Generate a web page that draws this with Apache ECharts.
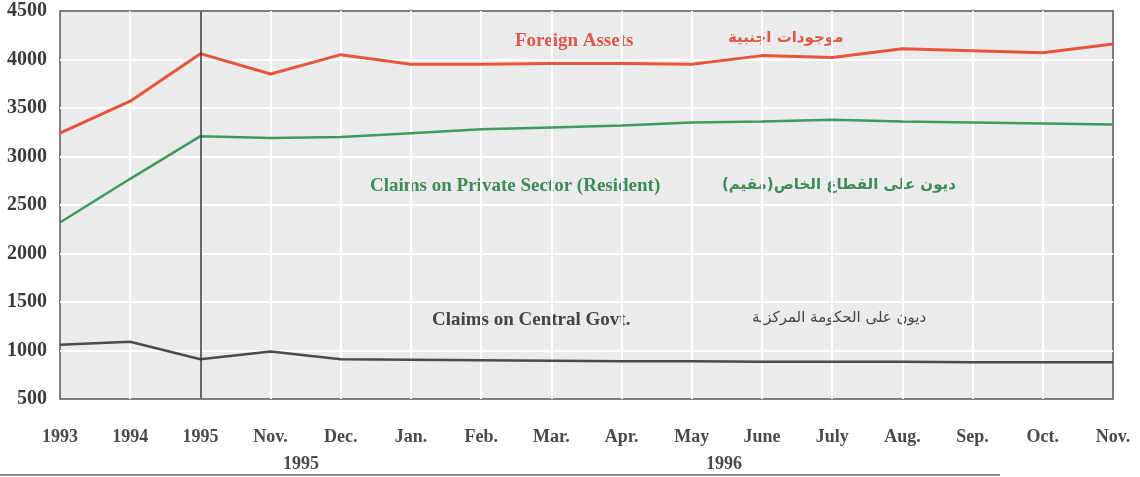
<!DOCTYPE html>
<html>
<head>
<meta charset="utf-8">
<script src="https://cdn.jsdelivr.net/npm/echarts@6/dist/echarts.min.js"></script>
<style>
  html, body { margin: 0; padding: 0; background: #fff; }
  #main { width: 1140px; height: 477px; }
</style>
</head>
<body>
<div id="main"></div>
<script>
var categories = ['1993', '1994', '1995', 'Nov.', 'Dec.', 'Jan.', 'Feb.', 'Mar.', 'Apr.', 'May', 'June', 'July', 'Aug.', 'Sep.', 'Oct.', 'Nov.'];
var foreignAssets = [3240, 3570, 4060, 3850, 4050, 3950, 3950, 3960, 3960, 3950, 4040, 4020, 4110, 4090, 4070, 4160];
var privateClaims = [2320, 2770, 3210, 3190, 3200, 3240, 3280, 3300, 3320, 3350, 3360, 3380, 3360, 3350, 3340, 3330];
var govtClaims = [1060, 1090, 910, 990, 910, 905, 900, 895, 890, 890, 885, 885, 885, 880, 880, 880];
var yearLabels = ['1995', '1996'];

var serif = '"Liberation Serif", "DejaVu Serif", serif';
var arabic = '"DejaVu Sans", "Noto Sans", sans-serif';

var myChart = echarts.init(document.getElementById('main'));
var option = {
    animation: false,
    backgroundColor: '#ffffff',
    grid: {
        left: 60,
        right: 27,
        top: 11,
        bottom: 78,
        show: true,
        backgroundColor: '#eaeceb',
        borderColor: '#555',
        borderWidth: 1.5
    },
    xAxis: {
        type: 'category',
        data: categories,
        boundaryGap: false,
        axisLine: { show: false },
        axisTick: { show: false },
        axisLabel: {
            margin: 29,
            interval: 0,
            color: '#4a4a4a',
            fontFamily: serif,
            fontWeight: 'bold',
            fontSize: 18
        },
        splitLine: { show: true, showMinLine: false, showMaxLine: false, lineStyle: { color: '#ffffff', width: 2 } }
    },
    yAxis: {
        type: 'value',
        min: 500,
        max: 4500,
        interval: 500,
        axisLine: { show: false },
        axisTick: { show: false },
        axisLabel: {
            margin: 13,
            color: '#3a3a3a',
            fontFamily: serif,
            fontWeight: 'bold',
            fontSize: 20,
            formatter: function (v) { return String(v); }
        },
        splitLine: { show: true, showMinLine: false, showMaxLine: false, lineStyle: { color: '#ffffff', width: 2 } }
    },
    series: [
        {
            name: 'Foreign Assets',
            type: 'line',
            data: foreignAssets,
            symbol: 'none',
            lineStyle: { color: '#e8553f', width: 3 },
            markLine: {
                silent: true,
                symbol: 'none',
                label: { show: false },
                lineStyle: { color: '#333', width: 1.5, type: 'solid' },
                data: [{ xAxis: '1995' }]
            }
        },
        {
            name: 'Claims on Private Sector (Resident)',
            type: 'line',
            data: privateClaims,
            symbol: 'none',
            lineStyle: { color: '#3f9a5c', width: 2.5 }
        },
        {
            name: 'Claims on Central Govt.',
            type: 'line',
            data: govtClaims,
            symbol: 'none',
            lineStyle: { color: '#4a4a4a', width: 2.5 }
        }
    ],
    graphic: [
        { type: 'text', left: 515, top: 32, style: { text: 'Foreign Assets', fill: '#e0574a', font: 'bold 19px ' + serif } },
        { type: 'text', left: 728, top: 31, style: { text: 'موجودات اجنبية', fill: '#e0574a', font: 'bold 15px ' + arabic } },
        { type: 'text', left: 370, top: 177, style: { text: 'Claims on Private Sector (Resident)', fill: '#3f8a5a', font: 'bold 19px ' + serif } },
        { type: 'text', left: 722, top: 178, style: { text: 'ديون على القطاع الخاص(مقيم)', fill: '#3f8a5a', font: 'bold 15px ' + arabic } },
        { type: 'text', left: 432, top: 311, style: { text: 'Claims on Central Govt.', fill: '#444', font: 'bold 19px ' + serif } },
        { type: 'text', left: 752, top: 311, style: { text: 'ديون على الحكومة المركزية', fill: '#444', font: '15px ' + arabic } },
        { type: 'text', left: 283, top: 455, style: { text: yearLabels[0], fill: '#4a4a4a', font: 'bold 18px ' + serif } },
        { type: 'text', left: 706, top: 455, style: { text: yearLabels[1], fill: '#4a4a4a', font: 'bold 18px ' + serif } },
        { type: 'rect', left: 0, top: 474, shape: { width: 1000, height: 2 }, style: { fill: '#8a8a8a' } }
    ]
};
myChart.setOption(option);
</script>
</body>
</html>
